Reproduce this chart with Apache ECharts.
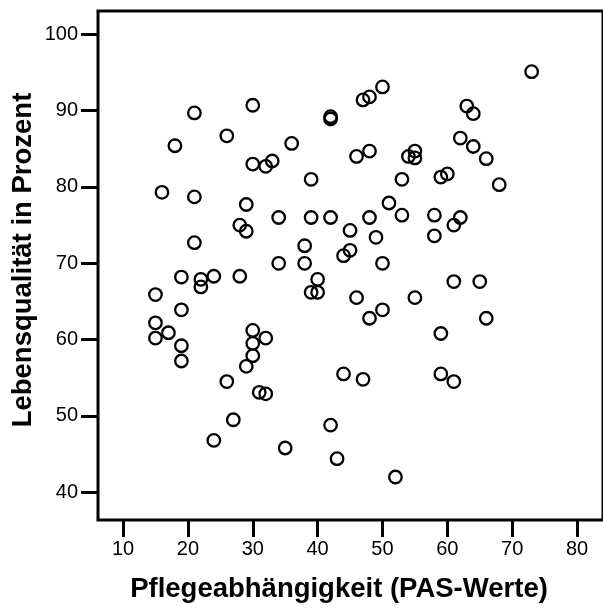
<!DOCTYPE html>
<html>
<head>
<meta charset="utf-8">
<script src="https://cdn.jsdelivr.net/npm/echarts@6/dist/echarts.min.js"></script>
<style>
html,body{margin:0;padding:0;background:#fff;}
#c{width:603px;height:608px;}
</style>
</head>
<body>
<div id="c"></div>
<script>
const pasValues = [21,30,26,18,30,16,21,29,28,29,21,
  19,22,22,24,28,15,19,15,17,15,19,19,30,30,30,29,26,31,32,27,24,
  50,48,47,42,42,36,33,32,46,48,54,55,55,39,53,51,34,39,42,48,53,45,49,38,45,44,34,38,50,
  40,39,40,46,55,50,48,32,44,47,42,35,43,52,
  73,63,64,62,64,66,59,60,68,58,62,61,58,
  61,65,66,59,59,61];
const lqValues = [89.7,90.7,86.7,85.4,83.0,79.3,78.7,77.7,75.0,74.2,72.7,
  68.2,67.9,66.9,68.3,68.3,65.9,63.9,62.2,60.9,60.2,59.2,57.2,61.2,59.5,57.9,56.5,54.5,53.1,52.9,49.5,46.8,
  93.1,91.8,91.4,88.9,89.2,85.7,83.4,82.7,84.0,84.7,84.0,84.7,83.8,81.0,81.0,77.9,76.0,76.0,76.0,76.0,76.3,74.3,73.4,72.3,71.7,71.0,70.0,70.0,70.0,
  67.9,66.2,66.2,65.5,65.5,63.9,62.8,60.2,55.5,54.8,48.8,45.8,44.4,42.0,
  95.1,90.6,89.6,86.4,85.3,83.7,81.3,81.7,80.3,76.3,76.0,75.0,73.6,
  67.6,67.6,62.8,60.8,55.5,54.5];
const xTicks = [10,20,30,40,50,60,70,80];
const yTicks = [40,50,60,70,80,90,100];
const xTitle = 'Pflegeabhängigkeit (PAS-Werte)';
const yTitle = 'Lebensqualität in Prozent';

const points = pasValues.map((v, i) => [v, lqValues[i]]);
const font = "'Liberation Sans', Arial, sans-serif";

const chart = echarts.init(document.getElementById('c'), null, {renderer: 'canvas'});
chart.setOption({
  animation: false,
  backgroundColor: '#fff',
  grid: {
    left: 98, top: 11, width: 510.5, height: 509,
    show: true, borderColor: '#000', borderWidth: 3, backgroundColor: 'transparent',
    containLabel: false
  },
  xAxis: {
    type: 'value', min: 6.14, max: 84,
    splitLine: {show: false},
    axisLine: {show: false},
    axisTick: {show: true, customValues: xTicks, length: 17, inside: false, lineStyle: {color: '#000', width: 3}},
    axisLabel: {show: true, customValues: xTicks, margin: 19, color: '#000', fontSize: 20, fontFamily: font}
  },
  yAxis: {
    type: 'value', min: 36.37, max: 103.05,
    splitLine: {show: false},
    axisLine: {show: false},
    axisTick: {show: true, customValues: yTicks, length: 17, inside: false, lineStyle: {color: '#000', width: 3}},
    axisLabel: {show: true, customValues: yTicks, margin: 20, color: '#000', fontSize: 20, fontFamily: font}
  },
  graphic: [
    {type: 'text', x: 339, y: 589, style: {text: xTitle, fontSize: 27.5, fontWeight: 'bold', fontFamily: font, fill: '#000', align: 'center', verticalAlign: 'middle'}},
    {type: 'text', x: 23, y: 260, rotation: Math.PI / 2, style: {text: yTitle, fontSize: 27.5, fontWeight: 'bold', fontFamily: font, fill: '#000', align: 'center', verticalAlign: 'middle'}}
  ],
  series: [{
    type: 'scatter',
    data: points,
    symbol: 'circle',
    symbolSize: 12.5,
    itemStyle: {color: 'rgba(0,0,0,0)', borderColor: '#000', borderWidth: 2.3, opacity: 1}
  }]
});
</script>
</body>
</html>
